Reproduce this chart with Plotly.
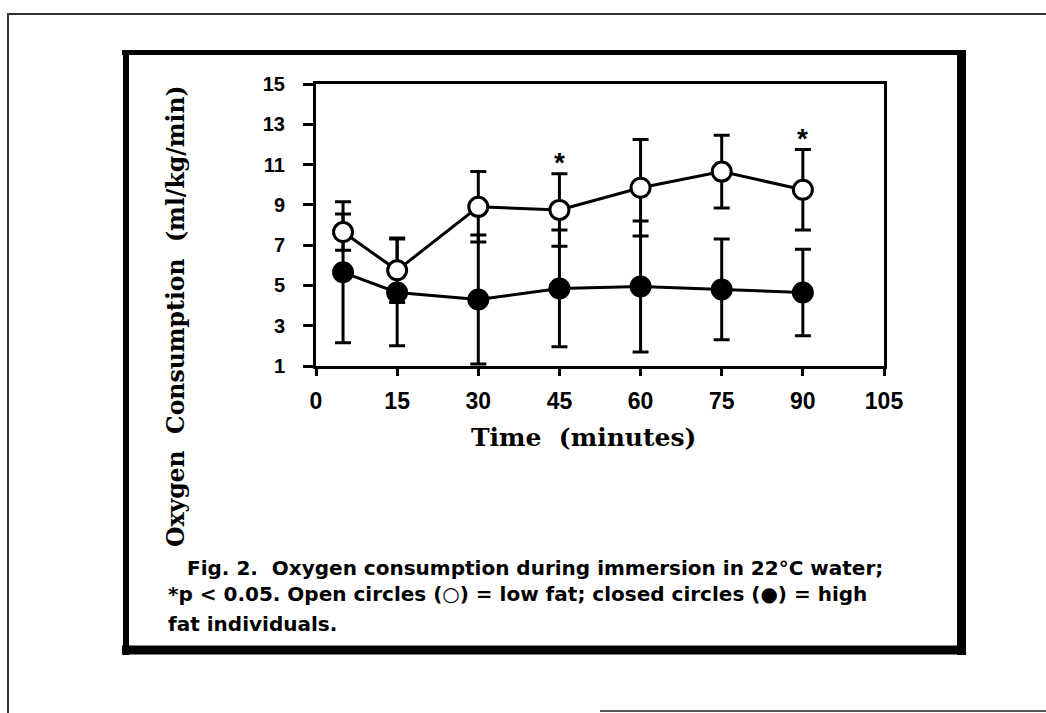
import plotly.graph_objects as go

# Oxygen consumption during immersion in 22 °C water (mean ± SD)
times = [5, 15, 30, 45, 60, 75, 90]
low_fat = [7.65, 5.75, 8.9, 8.75, 9.85, 10.65, 9.75]
low_fat_sd = [0.9, 1.6, 1.75, 1.8, 2.4, 1.8, 2.0]
high_fat = [5.65, 4.65, 4.3, 4.85, 4.95, 4.8, 4.65]
high_fat_sd = [3.5, 2.65, 3.2, 2.9, 3.25, 2.5, 2.15]
significant_times = [45, 90]

x_ticks = [0, 15, 30, 45, 60, 75, 90, 105]
y_ticks = [1, 3, 5, 7, 9, 11, 13, 15]

caption_lines = [
    "Fig. 2.  Oxygen consumption during immersion in 22°C water;",
    "*p < 0.05. Open circles (○) = low fat; closed circles (●) = high",
    "fat individuals.",
]

W, H = 1046, 713
PL, PR, PT, PB = 316, 884, 84, 366  # plot area in pixels


def px(x):
    return (x - PL) / (PR - PL)


def py(y):
    return (PB - y) / (PB - PT)


SERIF = "DejaVu Serif"
SANS = "Liberation Sans"
CAPTION = "DejaVu Sans"

fig = go.Figure()

fig.add_trace(go.Scatter(
    x=times, y=high_fat, mode="lines+markers", name="high fat",
    line=dict(color="black", width=3),
    marker=dict(symbol="circle", size=20, color="black",
                line=dict(color="black", width=2)),
    error_y=dict(type="data", array=high_fat_sd, symmetric=True,
                 thickness=3, width=8, color="black"),
))
fig.add_trace(go.Scatter(
    x=times, y=low_fat, mode="lines+markers", name="low fat",
    line=dict(color="black", width=3),
    marker=dict(symbol="circle", size=19, color="white",
                line=dict(color="black", width=3)),
    error_y=dict(type="data", array=low_fat_sd, symmetric=True,
                 thickness=3, width=8, color="black"),
))

# significance markers above the low-fat error bars
for t in significant_times:
    i = times.index(t)
    fig.add_annotation(
        x=t, y=low_fat[i] + low_fat_sd[i], xref="x", yref="y",
        text="*", showarrow=False, yanchor="middle", yshift=11,
        font=dict(family=SANS, size=28, color="black", weight="bold"),
    )

# axis titles
fig.add_annotation(
    x=px(583), y=py(437), xref="paper", yref="paper",
    text="Time  (minutes)", showarrow=False,
    xanchor="center", yanchor="middle",
    font=dict(family=SERIF, size=25, color="black", weight="bold"),
)
fig.add_annotation(
    x=px(176), y=py(316), xref="paper", yref="paper",
    text="Oxygen  Consumption  (ml/kg/min)", showarrow=False, textangle=-90,
    xanchor="center", yanchor="middle",
    font=dict(family=SERIF, size=23.5, color="black", weight="bold"),
)

# caption
caption_pos = [(185, 568), (166, 594), (166, 624)]
for line, (cx, cy) in zip(caption_lines, caption_pos):
    fig.add_annotation(
        x=px(cx), y=py(cy), xref="paper", yref="paper",
        text=line, showarrow=False, xanchor="left", yanchor="middle",
        font=dict(family=CAPTION, size=20, color="black", weight="bold"),
    )

# outer page frame and figure box
shapes = []


def seg(x0, y0, x1, y1, width, color="black"):
    shapes.append(dict(type="line", xref="paper", yref="paper",
                       x0=px(x0), y0=py(y0), x1=px(x1), y1=py(y1),
                       line=dict(color=color, width=width)))


seg(8, 14, 1046, 14, 2, "#333333")
seg(8, 13, 8, 713, 2, "#333333")
seg(600, 711, 1046, 711, 2, "#555555")
seg(122, 52.5, 966, 52.5, 5)
seg(126, 50, 126, 655, 6)
seg(961.5, 50, 961.5, 655, 9)
seg(122, 650, 966, 650, 9)

fig.update_layout(
    width=W, height=H,
    margin=dict(l=PL, r=W - PR, t=PT, b=H - PB, pad=0),
    paper_bgcolor="white", plot_bgcolor="white",
    showlegend=False,
    shapes=shapes,
    xaxis=dict(
        range=[0, 105], tickvals=x_ticks, ticktext=[str(v) for v in x_ticks],
        showgrid=False, zeroline=False,
        showline=True, mirror=True, linecolor="black", linewidth=3,
        ticks="outside", ticklen=7, tickwidth=3, tickcolor="black",
        ticklabelstandoff=5,
        tickfont=dict(family=SANS, size=23, color="black", weight="bold"),
    ),
    yaxis=dict(
        range=[1, 15], tickvals=y_ticks, ticktext=[str(v) for v in y_ticks],
        showgrid=False, zeroline=False,
        showline=True, mirror=True, linecolor="black", linewidth=3,
        ticks="outside", ticklen=10, tickwidth=3, tickcolor="black",
        ticklabelstandoff=14,
        tickfont=dict(family=SANS, size=20, color="black", weight="bold"),
    ),
)

fig.write_html("out.html")
